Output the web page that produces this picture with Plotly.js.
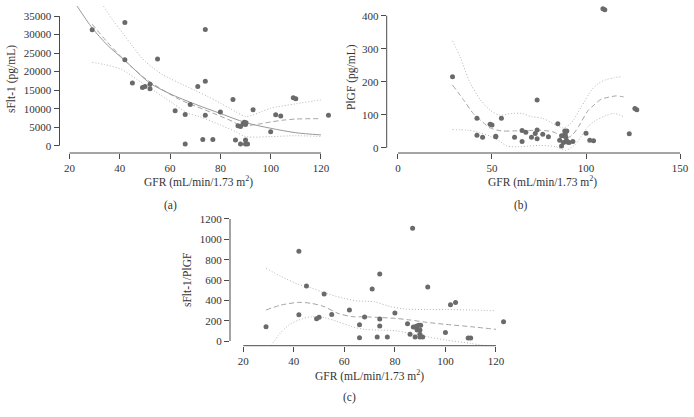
<!DOCTYPE html>
<html>
<head>
<meta charset="utf-8">
<script src="https://cdn.plot.ly/plotly-3.0.1.min.js"></script>
<style>
  html, body { margin: 0; padding: 0; background: #fff; }
  #chart { width: 694px; height: 417px; }
</style>
</head>
<body>
<div id="chart"></div>
<script>
// (a) sFlt-1 vs GFR
const gfrA = [29, 42, 42, 45, 49, 50, 52, 52, 55, 62, 66, 66, 68, 71, 73, 74, 74, 74, 77, 80, 85, 86, 87, 88, 88, 89, 89.5, 89.8, 90, 90.2, 90, 90, 90.8, 93, 100, 102, 104, 109, 110, 123];
const sfltA = [31300, 33300, 23200, 16900, 15700, 16000, 16600, 15400, 23400, 9400, 8400, 450, 11100, 16000, 1650, 31400, 17400, 8200, 1650, 9100, 12500, 1550, 5350, 5200, 450, 5900, 6300, 6100, 5700, 6200, 1550, 450, 450, 9700, 3750, 8350, 8000, 12950, 12700, 8200];
const fitAx = [23, 29, 35, 42, 52, 60, 70, 80, 90, 100, 110, 120];
const fitAy = [37700, 31800, 27200, 23000, 16900, 14000, 11200, 8700, 6240, 4700, 3500, 2900];
const midAx = [29, 35, 42, 50, 57, 64, 70, 77, 85, 88, 95, 100, 105, 110, 120];
const midAy = [32800, 28000, 23000, 18200, 15100, 12400, 10700, 8800, 6500, 5400, 5800, 6400, 6900, 7200, 7300];
const hiAx = [33.5, 37, 41, 45, 50, 57, 65, 70, 75, 80, 86, 90, 93, 100, 110, 120];
const hiAy = [37700, 34100, 30500, 26900, 22800, 19200, 16500, 14900, 13300, 11500, 9200, 7900, 8300, 10100, 11300, 12400];
const loAx = [29, 34, 41, 47, 54, 61, 67, 72, 80, 86, 90, 100, 110, 120];
const loAy = [22500, 21900, 20500, 17800, 14650, 11500, 8800, 7800, 5600, 3800, 2450, 2450, 2700, 2450];

// (b) PlGF vs GFR
const gfrB = [29, 42, 42, 45, 49, 50, 52, 52, 55, 62, 66, 66, 68, 71, 73, 74, 74, 74, 77, 80, 85, 86, 87, 87, 88, 88, 88.7, 89.8, 89, 89.6, 90, 91, 89.2, 93, 100, 102, 104, 109, 110, 123, 126, 127];
const plgfB = [215, 89, 38, 32, 71, 69, 35, 33, 89, 32, 52, 19, 47, 32, 43, 54, 27, 145, 41, 33, 73, 23, 36, 5, 36, 16, 51, 51, 43, 23, 17, 16, 33, 19, 44, 23, 21, 421, 418, 42, 119, 115];
const midBx = [29, 35, 40, 45, 49, 55, 62, 70, 76, 83, 87, 90, 93, 96, 101, 104, 108, 112, 116, 120];
const midBy = [190, 144, 104, 78, 60, 51, 51, 52, 53, 47, 34, 30, 40, 64, 112, 128, 147, 153, 157, 154];
const hiBx = [29, 33, 38.5, 44, 49, 54, 61, 66, 71, 77, 84, 88, 92, 97.5, 103, 106, 110, 115, 119];
const hiBy = [324, 276, 195, 144, 114, 99, 104, 104, 94, 89, 69, 60, 74, 124, 175, 192, 205, 212, 216];
const loBx = [29, 37, 44, 49, 54, 58, 65, 75, 84, 89, 94, 97, 101, 105, 110, 115, 120];
const loBy = [55, 53, 45, 35, 20, 5, 3, 7, 3, -8, 8, 30, 64, 82, 96, 104, 94];

// (c) sFlt-1/PlGF vs GFR
const gfrC = [29, 42, 42, 45, 49, 50, 52, 55, 62, 66, 66, 68, 71, 73, 74, 74, 74, 77, 80, 85, 86, 87, 87.3, 88, 88, 88.7, 89.5, 90.2, 88.8, 89.9, 89.9, 89.9, 91, 93, 100, 102, 104, 109, 110, 123];
const ratioC = [141, 882, 259, 541, 220, 233, 462, 262, 305, 161, 33, 236, 511, 39, 659, 216, 148, 39, 275, 170, 66, 1108, 138, 138, 39, 148, 154, 154, 108, 108, 66, 39, 39, 531, 85, 357, 380, 30, 30, 190];
const midCx = [29, 35, 42, 47, 52, 57.5, 63, 68, 73, 80, 86, 92.5, 100, 110, 120];
const midCy = [305, 354, 380, 370, 338, 272, 240, 238, 233, 223, 207, 184, 164, 141, 115];
const hiCx = [29, 35, 42, 46, 52, 59, 65, 72, 78, 84, 92, 100, 110, 120];
const hiCy = [715, 635, 555, 530, 475, 425, 395, 385, 340, 315, 310, 310, 305, 298];
const loCx = [31, 34, 38, 42, 47, 52, 57.5, 63, 68, 73, 80, 86, 92.5, 100, 110, 116.3];
const loCy = [-48, 59, 157, 207, 239, 230, 190, 141, 115, 108, 102, 75, 43, 10, -23, -48];

// ticks
const xTicksA = [20, 40, 60, 80, 100, 120];
const yTicksA = [0, 5000, 10000, 15000, 20000, 25000, 30000, 35000];
const xTicksB = [0, 50, 100, 150];
const yTicksB = [0, 100, 200, 300, 400];
const xTicksC = [20, 40, 60, 80, 100, 120];
const yTicksC = [0, 200, 400, 600, 800, 1000, 1200];

const W = 694, H = 417;
const fx = (px) => px / W;
const fy = (py) => 1 - py / H;

const font = "'Liberation Serif', serif";
const ink = '#333';
const axisInk = '#4a4a4a';
const dotColor = '#6a6a6a';

function pts(x, y, xa, ya) {
  return {
    type: 'scatter', mode: 'markers', x, y, xaxis: xa, yaxis: ya,
    marker: { color: dotColor, size: 5, line: { width: 0 } }, cliponaxis: false, hoverinfo: 'skip',
  };
}
function curve(x, y, xa, ya, dash, color) {
  return {
    type: 'scatter', mode: 'lines', x, y, xaxis: xa, yaxis: ya,
    line: { color, width: 1, dash, shape: 'spline', smoothing: 0.8 }, hoverinfo: 'skip',
  };
}

const DOT = '1px,2px';
const DASH = '5px,3px';

const traces = [
  curve(hiAx, hiAy, 'x', 'y', DOT, '#b4b4b4'),
  curve(loAx, loAy, 'x', 'y', DOT, '#b4b4b4'),
  curve(midAx, midAy, 'x', 'y', DASH, '#a4a4a4'),
  curve(fitAx, fitAy, 'x', 'y', 'solid', '#999'),
  pts(gfrA, sfltA, 'x', 'y'),
  curve(hiBx, hiBy, 'x2', 'y2', DOT, '#b4b4b4'),
  curve(loBx, loBy, 'x2', 'y2', DOT, '#b4b4b4'),
  curve(midBx, midBy, 'x2', 'y2', DASH, '#a4a4a4'),
  pts(gfrB, plgfB, 'x2', 'y2'),
  curve(hiCx, hiCy, 'x3', 'y3', DOT, '#b4b4b4'),
  curve(loCx, loCy, 'x3', 'y3', DOT, '#b4b4b4'),
  curve(midCx, midCy, 'x3', 'y3', DASH, '#a4a4a4'),
  pts(gfrC, ratioC, 'x3', 'y3'),
];

function axis(domain, range, ticks, anchor) {
  return {
    domain, range, anchor,
    tickmode: 'array', tickvals: ticks, ticktext: ticks.map(String),
    ticks: 'outside', ticklen: 5, tickwidth: 1, tickcolor: axisInk,
    showline: false, showgrid: false, zeroline: false,
    tickfont: { family: font, size: 11, color: ink },
    fixedrange: true,
  };
}

// axis lines only span first..last tick, like base R axes
function axisLines(xa, ya, xt, yt) {
  const line = { color: axisInk, width: 1 };
  return [
    { type: 'line', xref: xa, yref: ya + ' domain', x0: xt[0], x1: xt[xt.length - 1], y0: 0, y1: 0, line },
    { type: 'line', xref: xa + ' domain', yref: ya, x0: 0, x1: 0, y0: yt[0], y1: yt[yt.length - 1], line },
  ];
}

function label(text, px, py, angle) {
  return {
    text, x: fx(px), y: fy(py), xref: 'paper', yref: 'paper',
    xanchor: 'center', yanchor: 'middle', showarrow: false, textangle: angle || 0,
    font: { family: font, size: 11.5, color: ink },
  };
}
const gfrTitle = 'GFR (mL/min/1.73 m<sup>2</sup>)';

const layout = {
  width: W, height: H,
  margin: { l: 0, r: 0, t: 0, b: 0 },
  paper_bgcolor: '#fff', plot_bgcolor: 'rgba(0,0,0,0)',
  showlegend: false,
  xaxis: axis([fx(59.5), fx(331)], [16, 124], xTicksA, 'y'),
  yaxis: axis([fy(153), fy(5)], [-1980, 38000], yTicksA, 'x'),
  xaxis2: axis([fx(386.7), fx(691.3)], [-6, 156], xTicksB, 'y2'),
  yaxis2: axis([fy(153), fy(7.5)], [-16, 425], yTicksB, 'x2'),
  xaxis3: axis([fx(230), fx(508.6)], [14.74, 125], xTicksC, 'y3'),
  yaxis3: axis([fy(345.7), fy(214.1)], [-46, 1248], yTicksC, 'x3'),
  shapes: [
    ...axisLines('x', 'y', xTicksA, yTicksA),
    ...axisLines('x2', 'y2', xTicksB, yTicksB),
    ...axisLines('x3', 'y3', xTicksC, yTicksC),
  ],
  annotations: [
    label(gfrTitle, 198, 182),
    label('sFlt-1 (pg/mL)', 12, 79, -90),
    label('(a)', 170, 205),
    label(gfrTitle, 542, 182),
    label('PlGF (pg/mL)', 352, 77, -90),
    label('(b)', 521, 205),
    label(gfrTitle, 369, 375),
    label('sFlt-1/PlGF', 187, 280, -90),
    label('(c)', 349, 397),
  ],
};

Plotly.newPlot('chart', traces, layout, { staticPlot: true, displayModeBar: false });
</script>
</body>
</html>
